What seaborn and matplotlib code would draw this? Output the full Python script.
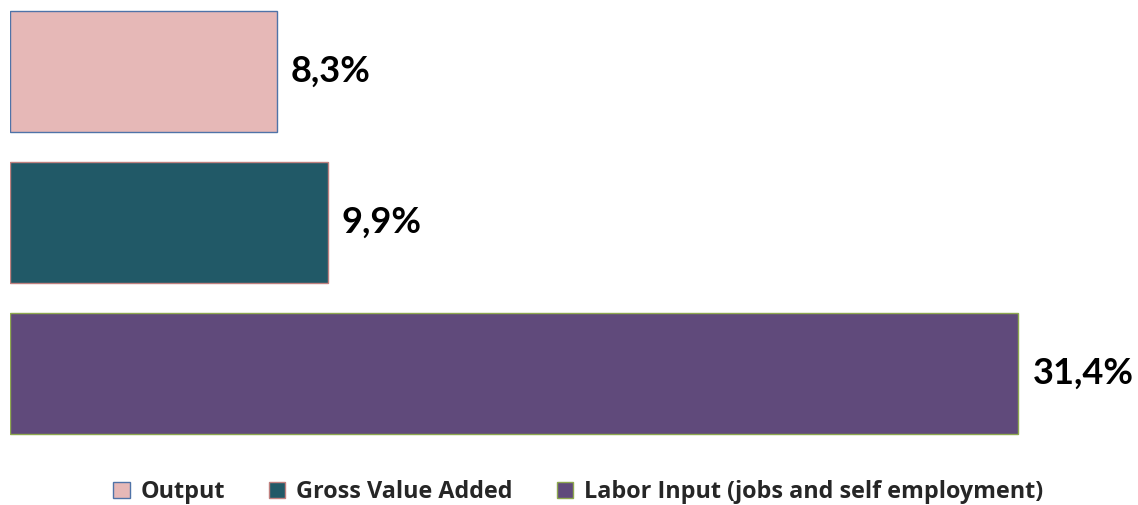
import matplotlib
matplotlib.use('Agg')
import matplotlib.pyplot as plt
import seaborn as sns
import pandas as pd

# Data
categories = ['Output', 'Gross Value Added', 'Labor Input (jobs and self employment)']
values = [8.3, 9.9, 31.4]
labels = ['8,3%', '9,9%', '31,4%']
bar_colors = ['#E6B8B7', '#215967', '#604A7B']
edge_colors = ['#4F73A8', '#C0807F', '#8EA84F']

df = pd.DataFrame({'category': categories, 'value': values})

sns.set_style('white')
plt.rcParams['font.family'] = ['Lato', 'DejaVu Sans']

fig = plt.figure(figsize=(11.38, 5.05), dpi=100)
ax = fig.add_axes([10 / 1138, 55 / 505, 1092 / 1138, 450 / 505])

sns.barplot(data=df, x='value', y='category', hue='category', palette=bar_colors,
            orient='h', width=0.8, saturation=1, legend=False, ax=ax)

for patch, ec in zip(ax.patches, edge_colors):
    patch.set_edgecolor(ec)
    patch.set_linewidth(1.0)

for cont, lab in zip(ax.containers, labels):
    ax.bar_label(cont, labels=[lab], padding=10, fontsize=26, fontweight='bold', color='black')

ax.set_xlim(0, 34)
ax.set_ylim(2.507, -0.4735)
ax.set_xlabel('')
ax.set_ylabel('')
ax.set_xticks([])
ax.set_yticks([])
sns.despine(ax=ax, left=True, bottom=True)

handles = list(ax.patches)[:3]
fig.legend(handles, categories, loc='center', bbox_to_anchor=(0.508, 0.026), ncol=3,
           frameon=False, prop={'family': 'Open Sans', 'weight': 'bold', 'size': 16.8},
           handlelength=0.7, handleheight=0.7, handletextpad=0.45, columnspacing=1.9)

fig.savefig('out.png', dpi=100)
